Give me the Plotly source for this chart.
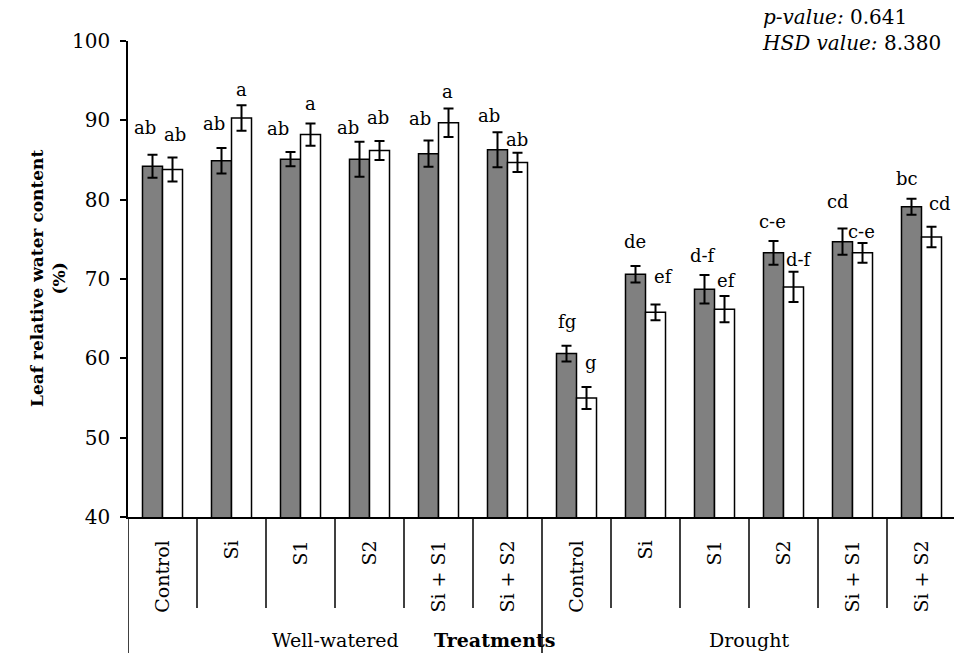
import plotly.graph_objects as go

# ---------------- data ----------------
treatments = ["Control", "Si", "S1", "S2", "Si + S1", "Si + S2",
              "Control", "Si", "S1", "S2", "Si + S1", "Si + S2"]
groups = ["Well-watered", "Drought"]
series1_vals = [84.2, 84.9, 85.1, 85.1, 85.8, 86.3, 60.6, 70.6, 68.7, 73.3, 74.7, 79.1]
series1_err = [1.45, 1.6, 0.9, 2.2, 1.65, 2.2, 1.0, 1.05, 1.8, 1.5, 1.65, 1.0]
series2_vals = [83.8, 90.3, 88.2, 86.2, 89.7, 84.7, 55.0, 65.8, 66.2, 69.0, 73.3, 75.3]
series2_err = [1.5, 1.6, 1.4, 1.2, 1.8, 1.2, 1.4, 1.0, 1.65, 1.9, 1.25, 1.3]
series1_letters = ["ab", "ab", "ab", "ab", "ab", "ab", "fg", "de", "d-f", "c-e", "cd", "bc"]
series2_letters = ["ab", "a", "a", "ab", "a", "ab", "g", "ef", "ef", "d-f", "c-e", "cd"]
y_ticks = [40, 50, 60, 70, 80, 90, 100]

# ---------------- label styling offsets (pixels) ----------------
lab1_dx = [-8, -8, -13, -12, -9, -9, 0, -1, -2, -1, -5, -5]
lab1_dy = [27, 25, 24, 14, 22, 17, 24, 24, 20, 19, 27, 20]
lab2_dx = [2, 0, 0, -2, -1, -1, 4, 8, 2, 5, -1, 8]
lab2_dy = [23, 16, 20, 23, 17, 13, 24, 28, 16, 12, 11, 23]

FONT = "DejaVu Serif"
W, H = 954, 653
ML, MT, MB = 128, 41, 136
PW = W - ML
PH = H - MT - MB
n = len(treatments)
xs = list(range(n))
BAR_W = 0.29

fig = go.Figure()
fig.add_trace(go.Bar(
    x=xs, y=series1_vals, width=BAR_W, offset=-BAR_W,
    marker=dict(color="#808080", line=dict(color="black", width=1.5)),
    error_y=dict(type="data", array=series1_err, color="black", thickness=2, width=5),
    showlegend=False))
fig.add_trace(go.Bar(
    x=xs, y=series2_vals, width=BAR_W, offset=0,
    marker=dict(color="white", line=dict(color="black", width=1.5)),
    error_y=dict(type="data", array=series2_err, color="black", thickness=2, width=5),
    showlegend=False))

annotations = []
for i in range(n):
    annotations.append(dict(x=i - BAR_W / 2, y=series1_vals[i] + series1_err[i], xref="x", yref="y",
                            text=series1_letters[i], showarrow=False, xanchor="center", yanchor="middle",
                            xshift=lab1_dx[i], yshift=lab1_dy[i], font=dict(family=FONT, size=18, color="black")))
    annotations.append(dict(x=i + BAR_W / 2, y=series2_vals[i] + series2_err[i], xref="x", yref="y",
                            text=series2_letters[i], showarrow=False, xanchor="center", yanchor="middle",
                            xshift=lab2_dx[i], yshift=lab2_dy[i], font=dict(family=FONT, size=18, color="black")))

def py(pix):
    return (MT + PH - pix) / PH

def px(pix):
    return (pix - ML) / PW

# group labels
annotations.append(dict(x=px(335), y=py(640), xref="paper", yref="paper", text=groups[0], showarrow=False,
                        xanchor="center", yanchor="middle", font=dict(family=FONT, size=19, color="black")))
annotations.append(dict(x=px(749), y=py(640), xref="paper", yref="paper", text=groups[1], showarrow=False,
                        xanchor="center", yanchor="middle", font=dict(family=FONT, size=19, color="black")))
annotations.append(dict(x=px(494), y=py(640), xref="paper", yref="paper", text="<b>Treatments</b>",
                        showarrow=False, xanchor="center", yanchor="middle",
                        font=dict(family=FONT, size=19, color="black")))
# y title
annotations.append(dict(x=px(48), y=0.5, xref="paper", yref="paper",
                        text="<b>Leaf relative water content<br>(%)</b>", textangle=-90, showarrow=False,
                        xanchor="center", yanchor="middle", font=dict(family=FONT, size=17, color="black")))
# stats text
annotations.append(dict(x=px(760), y=py(3), xref="paper", yref="paper",
                        text="<i>p-value:</i> 0.641<br><i>HSD value:</i> 8.380", align="left",
                        showarrow=False, xanchor="left", yanchor="top",
                        font=dict(family=FONT, size=20, color="black")))

shapes = []
for k in range(n + 1):
    xb = k - 0.5
    bottom = py(H) if k % 6 == 0 else py(608)
    shapes.append(dict(type="line", xref="x", yref="paper", x0=xb, x1=xb, y0=0, y1=bottom,
                       line=dict(color="black", width=1.5)))

fig.update_layout(
    width=W, height=H,
    margin=dict(l=ML, r=0, t=MT, b=MB),
    paper_bgcolor="white", plot_bgcolor="white",
    barmode="overlay",
    annotations=annotations, shapes=shapes,
    font=dict(family=FONT, size=16, color="black"),
    xaxis=dict(range=[-0.5, -0.5 + PW / 69.0], tickmode="array", tickvals=xs, ticktext=treatments,
               tickangle=-90, showgrid=False, zeroline=False, showline=True, linecolor="black",
               linewidth=1.5, ticks="", ticklabelstandoff=14,
               tickfont=dict(family=FONT, size=19, color="black")),
    yaxis=dict(range=[40, 100], tickmode="array", tickvals=y_ticks, showgrid=False, zeroline=False,
               showline=True, linecolor="black", linewidth=1.5, ticks="outside", ticklen=6,
               tickwidth=1.5, tickcolor="black", ticklabelstandoff=6,
               tickfont=dict(family=FONT, size=20, color="black")),
)

fig.write_html("out.html", config={"displayModeBar": False},
               post_script="document.body.style.margin='0';document.body.style.overflow='hidden';")
